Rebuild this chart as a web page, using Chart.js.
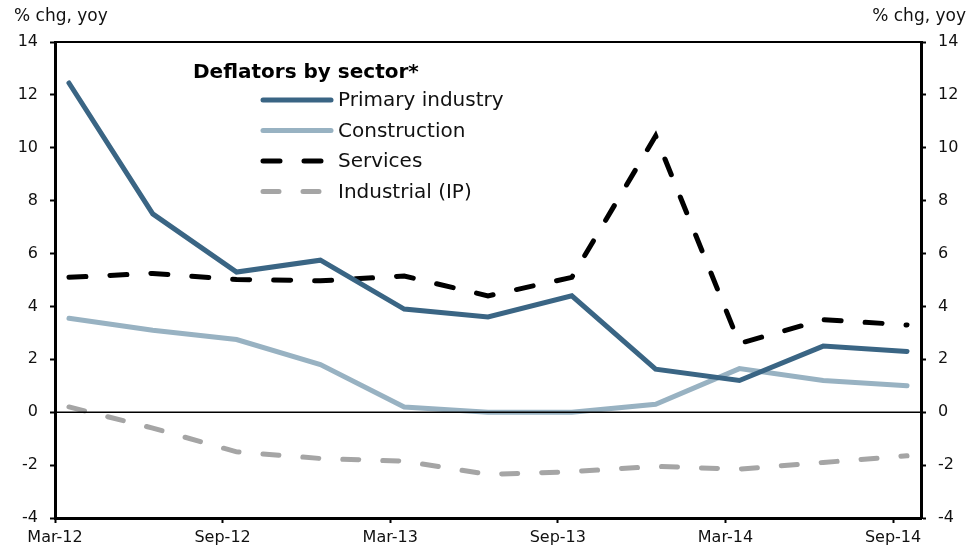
<!DOCTYPE html>
<html>
<head>
<meta charset="utf-8">
<script src="https://cdn.jsdelivr.net/npm/chart.js@4"></script>
<style>
  html, body { margin: 0; padding: 0; background: #fff; }
  #wrap { width: 973px; height: 546px; position: relative; }
</style>
</head>
<body>
<div id="wrap"><canvas id="deflChart" width="973" height="546"></canvas></div>
<script>
// quarters, data plotted mid-month of the quarter's last month
const quarters = ['Mar-12', 'Jun-12', 'Sep-12', 'Dec-12', 'Mar-13', 'Jun-13',
                  'Sep-13', 'Dec-13', 'Mar-14', 'Jun-14', 'Sep-14'];
const tickLabels = ['Mar-12', 'Sep-12', 'Mar-13', 'Sep-13', 'Mar-14', 'Sep-14'];

const primary      = [12.45, 7.5, 5.3, 5.75, 3.9, 3.6, 4.4, 1.63, 1.2, 2.5, 2.3];
const construction = [3.55, 3.1, 2.75, 1.8, 0.2, 0.0, 0.0, 0.3, 1.65, 1.2, 1.0];
const services     = [5.1, 5.25, 5.02, 4.97, 5.15, 4.4, 5.1, 10.45, 2.6, 3.5, 3.3];
const industrial   = [0.2, -0.6, -1.5, -1.75, -1.85, -2.35, -2.25, -2.05, -2.15, -1.9, -1.65];

const FONT = 'DejaVu Sans, Liberation Sans, sans-serif';

const toPoints = vals => vals.map((v, i) => ({ x: i * 3 + 0.5, y: v }));

function mkSet(label, vals, color, dash) {
    return {
        label: label,
        data: toPoints(vals),
        borderColor: color,
        borderWidth: 5,
        borderDash: dash,
        borderCapStyle: 'round',
        borderJoinStyle: 'miter',
        pointRadius: 0,
        tension: 0,
        fill: false
    };
}

// frame, zero line, unit labels and the legend box
const decorPlugin = {
    id: 'decor',
    afterDraw(chart) {
        const { ctx, chartArea: a } = chart;
        const ys = chart.scales.y;
        ctx.save();
        ctx.strokeStyle = '#000';
        ctx.lineWidth = 2;
        ctx.beginPath();
        ctx.moveTo(a.left, a.top);
        ctx.lineTo(a.right, a.top);
        ctx.stroke();
        ctx.lineWidth = 1.5;
        const y0 = ys.getPixelForValue(0);
        ctx.beginPath();
        ctx.moveTo(a.left, y0);
        ctx.lineTo(a.right, y0);
        ctx.stroke();

        ctx.fillStyle = '#111';
        ctx.font = '17px ' + FONT;
        ctx.textBaseline = 'middle';
        ctx.textAlign = 'left';
        ctx.fillText('% chg, yoy', 14, 17);
        ctx.textAlign = 'right';
        ctx.fillText('% chg, yoy', 966, 17);

        // legend
        ctx.textAlign = 'left';
        ctx.font = 'bold 20px ' + FONT;
        ctx.fillStyle = '#000';
        ctx.fillText('Deflators by sector*', 193, 73);
        ctx.font = '20px ' + FONT;
        chart.data.datasets.forEach((ds, i) => {
            const yy = 100 + i * 30.5;
            ctx.strokeStyle = ds.borderColor;
            ctx.lineWidth = 5;
            ctx.lineCap = 'round';
            ctx.setLineDash(ds.borderDash || []);
            ctx.beginPath();
            ctx.moveTo(263, yy);
            ctx.lineTo(331, yy);
            ctx.stroke();
            ctx.setLineDash([]);
            ctx.fillStyle = '#111';
            ctx.fillText(ds.label, 338, yy + 1);
        });
        ctx.restore();
    }
};

document.addEventListener('DOMContentLoaded', () => {
    const ctx = document.getElementById('deflChart').getContext('2d');
    const yTicks = {
        color: '#111',
        font: { family: FONT, size: 16 },
        stepSize: 2,
        padding: 12
    };
    const yGrid = {
        drawOnChartArea: false,
        drawTicks: true,
        tickLength: 5,
        tickWidth: 2,
        tickColor: '#000'
    };
    new Chart(ctx, {
        type: 'line',
        data: {
            datasets: [
                mkSet('Primary industry', primary, '#3a6584', []),
                mkSet('Construction', construction, '#98b2c2', []),
                mkSet('Services', services, '#000000', [17, 24]),
                mkSet('Industrial (IP)', industrial, '#a5a5a5', [16, 24])
            ]
        },
        options: {
            responsive: false,
            animation: false,
            layout: { padding: { top: 42, left: 0, right: 0, bottom: 0 } },
            plugins: {
                legend: { display: false },
                tooltip: { enabled: false }
            },
            scales: {
                x: {
                    type: 'linear',
                    min: 0,
                    max: 31,
                    afterBuildTicks: s => { s.ticks = tickLabels.map((t, i) => ({ value: i * 6 })); },
                    afterFit: s => { s.height = 28; },
                    ticks: {
                        color: '#111',
                        font: { family: FONT, size: 16 },
                        maxRotation: 0,
                        autoSkip: false,
                        padding: 5,
                        callback: (v) => tickLabels[Math.round(v / 6)]
                    },
                    grid: yGrid,
                    border: { color: '#000', width: 3 }
                },
                y: {
                    position: 'left',
                    min: -4,
                    max: 14,
                    afterFit: s => { s.width = 55; },
                    ticks: yTicks,
                    grid: yGrid,
                    border: { color: '#000', width: 3 }
                },
                y2: {
                    position: 'right',
                    min: -4,
                    max: 14,
                    afterFit: s => { s.width = 52; },
                    ticks: yTicks,
                    grid: yGrid,
                    border: { color: '#000', width: 3 }
                }
            }
        },
        plugins: [decorPlugin]
    });
});
</script>
</body>
</html>
